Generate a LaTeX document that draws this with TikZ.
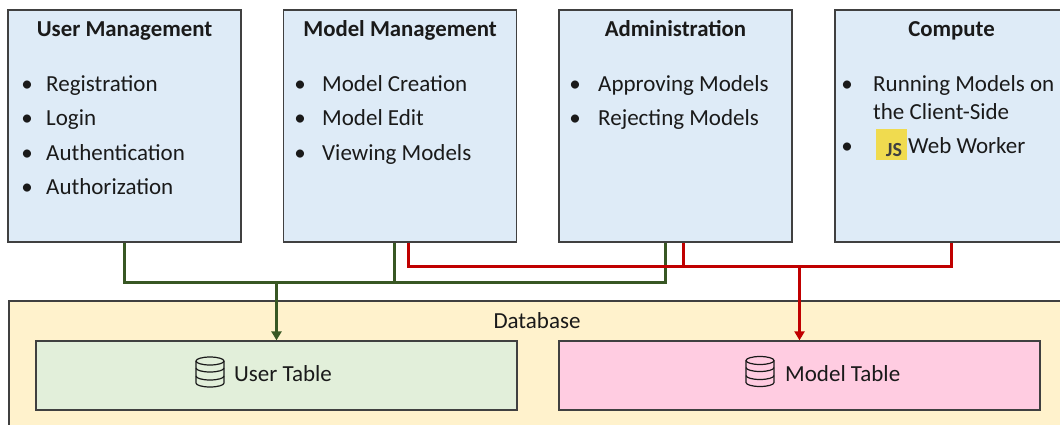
\documentclass[tikz,border=0pt]{standalone}
\usepackage{fontspec}
\setmainfont{Carlito}
\usetikzlibrary{arrows.meta}

\definecolor{boxblue}{HTML}{DEEBF7}
\definecolor{dbyellow}{HTML}{FFF2CC}
\definecolor{tablegreen}{HTML}{E2EFDA}
\definecolor{tablepink}{HTML}{FFCCE1}
\definecolor{edgegray}{HTML}{404040}
\definecolor{linegreen}{HTML}{385723}
\definecolor{linered}{HTML}{C00000}
\definecolor{jsyellow}{HTML}{F0DB4F}
\definecolor{inkblack}{HTML}{1A1A1A}

\tikzset{
  module/.style={draw=edgegray, line width=1.3pt, fill=boxblue, minimum width=233pt, minimum height=232pt, inner sep=0pt},
  table/.style={draw=edgegray, line width=1.3pt, minimum width=481pt, minimum height=69pt, inner sep=0pt},
  title/.style={font=\fontsize{22.8}{27}\selectfont\bfseries, text=inkblack, anchor=base, inner sep=0pt},
  item/.style={font=\fontsize{23}{27}\selectfont, text=inkblack, anchor=base west, inner sep=0pt},
  dot/.style={font=\fontsize{23}{27}\selectfont, text=inkblack, anchor=base, inner sep=0pt},
  gline/.style={draw=linegreen, line width=3pt},
  rline/.style={draw=linered, line width=3pt},
  tip/.style={-{Triangle[width=10pt,length=9pt]}},
  dbicon/.pic={
    \draw[line width=1.2pt, inkblack] (0,-11) ellipse (14 and 4);
    \draw[line width=1.2pt, inkblack] (-14,-11) -- (-14,11) arc[start angle=180, end angle=0, x radius=14, y radius=4] -- (14,-11);
    \draw[line width=1.2pt, inkblack] (-14,-4) arc[start angle=180, end angle=0, x radius=14, y radius=4];
    \draw[line width=1.2pt, inkblack] (-14,4) arc[start angle=180, end angle=0, x radius=14, y radius=4];
  }
}

\begin{document}
\begin{tikzpicture}[x=1pt, y=-1pt]
  \useasboundingbox (0,0) rectangle (1060,424);
  \clip (0,0) rectangle (1060,424);

  % top modules
  \node[module] (um) at (124.5,126) {};
  \node[module] (mm) at (400,126) {};
  \node[module] (adm) at (675.5,126) {};
  \node[module] (cmp) at (951.5,126) {};

  \node[title] (um-title) at (124.5,36) {User Management};
  \node[title] (mm-title) at (400,36) {Model Management};
  \node[title] (adm-title) at (675.5,36) {Administration};
  \node[title] (cmp-title) at (951.5,36) {Compute};

  \foreach \txt [count=\i] in {Registration, Login, Authentication, Authorization} {
    \node[dot] (um-dot-\i) at (27,{91.5+34.3*(\i-1)}) {\textbullet};
    \node[item] (um-\i) at (46,{91.5+34.3*(\i-1)}) {\txt};
  }
  \foreach \txt [count=\i] in {Model Creation, Model Edit, Viewing Models} {
    \node[dot] (mm-dot-\i) at (300,{91.5+34.3*(\i-1)}) {\textbullet};
    \node[item] (mm-\i) at (322,{91.5+34.3*(\i-1)}) {\txt};
  }
  \foreach \txt [count=\i] in {Approving Models, Rejecting Models} {
    \node[dot] (adm-dot-\i) at (575,{91.5+34.3*(\i-1)}) {\textbullet};
    \node[item] (adm-\i) at (598,{91.5+34.3*(\i-1)}) {\txt};
  }

  \node[dot] (cmp-dot-1) at (847,91.5) {\textbullet};
  \node[item] (cmp-1) at (873,91.5) {Running Models on};
  \node[item] (cmp-1b) at (873,119) {the Client-Side};
  \node[dot] (cmp-dot-2) at (847,153.5) {\textbullet};
  \node[fill=jsyellow, minimum width=31pt, minimum height=31pt, inner sep=0pt] (js) at (891.5,144.5) {};
  \node[font=\fontsize{20}{22}\selectfont\bfseries, text=edgegray, anchor=base, inner sep=0pt] (js-text) at (894,156.5) {JS};
  \node[item] (cmp-2) at (908,153.5) {Web Worker};

  % database
  \node[draw=edgegray, line width=1.3pt, fill=dbyellow, minimum width=1071pt, minimum height=149pt, inner sep=0pt] (db) at (544.5,375.5) {};
  \node[dot] (db-title) at (537,328.5) {Database};
  \node[table, fill=tablegreen] (ut) at (276.5,375.5) {};
  \node[table, fill=tablepink] (mt) at (799.5,375.5) {};
  \pic (ut-icon) at (210,372) {dbicon};
  \node[item] (ut-label) at (234,381.5) {User Table};
  \pic (mt-icon) at (760,371.5) {dbicon};
  \node[item] (mt-label) at (785,381.5) {Model Table};

  % connectors
  \coordinate (gbus) at (0,282);
  \coordinate (rbus) at (0,266);
  \draw[gline] (um.south) |- ([xshift=-10.5pt]adm.south |- gbus) -- ([xshift=-10.5pt]adm.south);
  \draw[gline] ([xshift=-6pt]mm.south) -- ([xshift=-6pt]mm.south |- gbus);
  \draw[gline, tip] (ut.north |- gbus) -- (ut.north);
  \draw[rline] ([xshift=8pt]mm.south) |- (cmp.south |- rbus) -- (cmp.south);
  \draw[rline] ([xshift=7.5pt]adm.south) -- ([xshift=7.5pt]adm.south |- rbus);
  \draw[rline, tip] (mt.north |- rbus) -- (mt.north);
\end{tikzpicture}
\end{document}
